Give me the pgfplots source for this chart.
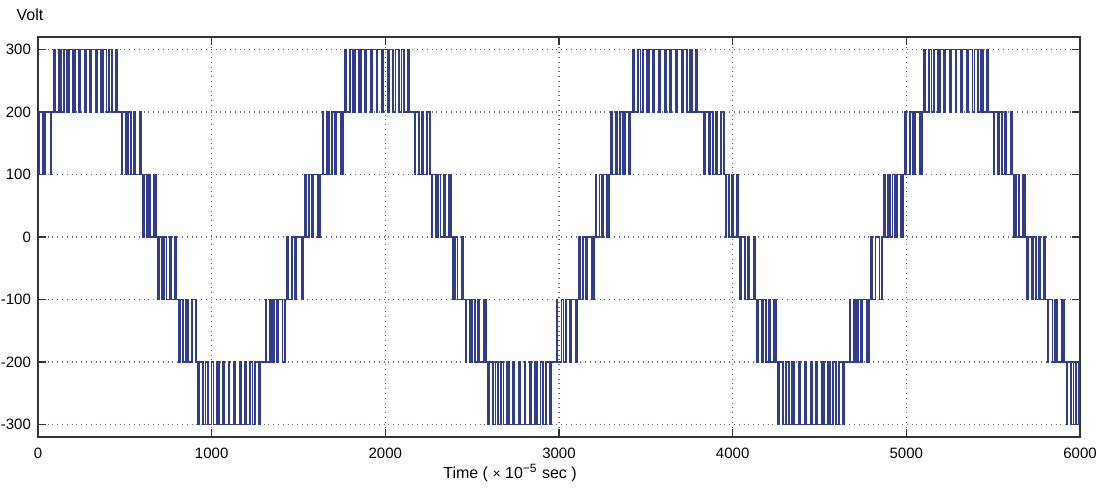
\documentclass[border=0pt]{standalone}
\usepackage{fontspec}
\setmainfont{Liberation Sans}
\usepackage{pgfplots}
\pgfplotsset{compat=1.18}
\usepackage{pgfplotstable}
\definecolor{wave}{RGB}{50,60,140}
\definecolor{gridc}{RGB}{100,110,150}
\pgfplotstableread{
x y
0 100
7 200
30 100
40 200
72 100
78 200
91 300
97 200
119 300
134 200
149 300
169 200
180 300
202 200
211 300
236 200
242 300
269 200
275 300
301 200
308 300
333 200
341 300
364 200
375 300
395 200
410 300
424 200
446 300
453 200
470 200
483 100
486 200
508 100
519 200
534 100
552 200
560 100
585 200
595 100
606 0
610 100
627 0
640 100
648 0
670 100
680 0
692 -100
695 0
716 -100
726 0
740 -100
757 0
764 -100
788 0
798 -100
811 -200
816 -100
837 -200
853 -100
863 -200
889 -100
910 -200
923 -300
929 -200
950 -300
965 -200
980 -300
999 -200
1010 -300
1032 -200
1040 -300
1065 -200
1071 -300
1097 -200
1103 -300
1129 -200
1135 -300
1160 -200
1168 -300
1190 -200
1201 -300
1220 -200
1235 -300
1250 -200
1271 -300
1277 -200
1300 -200
1312 -100
1315 -200
1336 -100
1346 -200
1360 -100
1377 -200
1384 -100
1408 -200
1420 -100
1434 0
1439 -100
1462 0
1478 -100
1489 0
1517 -100
1525 0
1537 100
1542 0
1561 100
1576 0
1585 100
1610 0
1625 100
1638 200
1642 100
1664 200
1676 100
1691 200
1709 100
1717 200
1743 100
1755 200
1768 300
1775 200
1797 300
1812 200
1827 300
1847 200
1859 300
1882 200
1890 300
1916 200
1922 300
1950 200
1955 300
1982 200
1989 300
2015 200
2023 300
2046 200
2058 300
2078 200
2093 300
2108 200
2130 300
2137 200
2155 200
2168 100
2172 200
2192 100
2208 200
2218 100
2242 200
2255 100
2268 0
2271 100
2293 0
2304 100
2318 0
2336 100
2343 0
2368 100
2378 0
2391 -100
2399 0
2416 -100
2441 0
2450 -100
2463 -200
2467 -100
2489 -200
2501 -100
2516 -200
2534 -100
2542 -200
2568 -100
2578 -200
2591 -300
2597 -200
2619 -300
2634 -200
2649 -300
2668 -200
2680 -300
2702 -200
2711 -300
2736 -200
2742 -300
2769 -200
2774 -300
2801 -200
2807 -300
2833 -200
2841 -300
2863 -200
2875 -300
2894 -200
2909 -300
2924 -200
2946 -300
2952 -200
2972 -200
2986 -100
2990 -200
3014 -100
3026 -200
3042 -100
3062 -200
3070 -100
3098 -200
3105 -100
3117 0
3122 -100
3140 0
3155 -100
3164 0
3188 -100
3200 0
3211 100
3216 0
3233 100
3247 0
3256 100
3278 0
3288 100
3301 200
3304 100
3326 200
3337 100
3352 200
3370 100
3378 200
3403 100
3412 200
3425 300
3432 200
3454 300
3469 200
3485 300
3505 200
3516 300
3540 200
3548 300
3574 200
3581 300
3608 200
3614 300
3641 200
3648 300
3674 200
3682 300
3706 200
3717 300
3737 200
3753 300
3768 200
3790 300
3797 200
3825 200
3837 100
3840 200
3861 100
3871 200
3885 100
3902 200
3909 100
3933 200
3950 100
3960 0
3965 100
3981 0
3994 100
4002 0
4023 100
4030 0
4043 -100
4048 0
4070 -100
4085 0
4096 -100
4122 0
4130 -100
4142 -200
4145 -100
4166 -200
4176 -100
4190 -200
4207 -100
4214 -200
4238 -100
4248 -200
4262 -300
4268 -200
4291 -300
4307 -200
4323 -300
4343 -200
4355 -300
4379 -200
4387 -300
4414 -200
4421 -300
4448 -200
4455 -300
4482 -200
4489 -300
4516 -200
4524 -300
4548 -200
4560 -300
4580 -200
4597 -300
4612 -200
4635 -300
4641 -200
4660 -200
4673 -100
4676 -200
4698 -100
4709 -200
4723 -100
4741 -200
4748 -100
4773 -200
4785 -100
4797 0
4805 -100
4822 0
4846 -100
4860 0
4872 100
4875 0
4896 100
4906 0
4920 100
4937 0
4944 100
4968 0
4980 100
4994 200
5000 100
5023 200
5040 100
5052 200
5080 100
5088 200
5101 300
5108 200
5130 300
5145 200
5161 300
5181 200
5192 300
5215 200
5224 300
5250 200
5256 300
5284 200
5289 300
5317 200
5323 300
5349 200
5358 300
5381 200
5392 300
5412 200
5428 300
5443 200
5465 300
5472 200
5490 200
5502 100
5506 200
5527 100
5537 200
5551 100
5569 200
5576 100
5600 200
5608 100
5621 0
5630 100
5647 0
5674 100
5685 0
5697 -100
5700 0
5721 -100
5731 0
5745 -100
5762 0
5769 -100
5793 0
5800 -100
5814 -200
5819 -100
5842 -200
5858 -100
5869 -200
5897 -100
5910 -200
5922 -300
5928 -200
5948 -300
5962 -200
5976 -300
5994 -200
6000 -200
}\wavedata
\begin{document}
\begin{tikzpicture}
\begin{axis}[
  at={(0,0)}, anchor=south west,
  scale only axis, width=521pt, height=200pt,
  xmin=0, xmax=6000, ymin=-320, ymax=320,
  xtick={0,1000,2000,3000,4000,5000,6000},
  xticklabels={0,1000,2000,3000,4000,5000,6000},
  ytick={-300,-200,-100,0,100,200,300},
  yticklabels={-300,-200,-100,0,100,200,300},
  tick align=inside, major tick length=4pt,
  tick style={line width=0.7pt, black!80},
  grid=major, grid style={dotted, line width=0.7pt, gridc},
  axis line style={line width=0.8pt, black!80},
  ticklabel style={font=\fontsize{7.5}{9}\selectfont},
  xticklabel style={yshift=-2pt},
  xlabel={Time ( {\scriptsize ×} 10\textsuperscript{−5} sec )},
  xlabel style={at={(axis description cs:0.453,0)}, anchor=center, yshift=-18pt, font=\fontsize{8}{9}\selectfont},
]
\addplot[const plot, wave, line width=0.9pt] table[x=x, y=y] {\wavedata};
\end{axis}
\node[font=\fontsize{8}{9}\selectfont] at (-4pt,211pt) {Volt};
\pgfresetboundingbox
\path[use as bounding box] (-19pt,-26pt) rectangle (533pt,218.5pt);
\end{tikzpicture}
\end{document}
